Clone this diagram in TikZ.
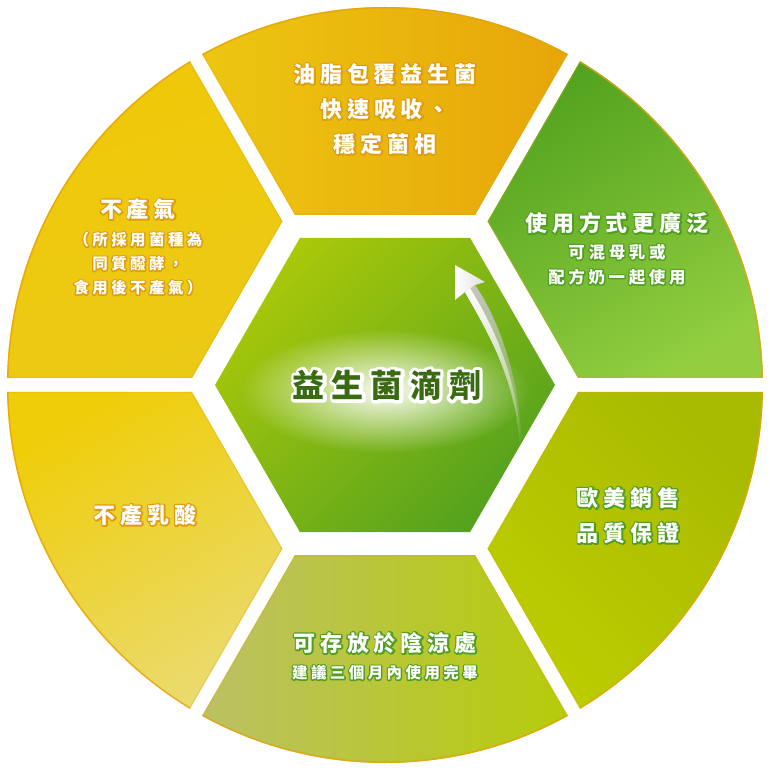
\documentclass[tikz,border=0pt]{standalone}
\usepackage{fontspec}
\usepackage{xcolor}
\usepackage{tikz}
\usetikzlibrary{positioning, calc, fadings}

\newfontfamily\cjk{Noto Sans CJK TC}[LetterSpace=22]

\definecolor{rimorange}{HTML}{E6A20C}
\definecolor{haloorange}{HTML}{DE9C0E}
\definecolor{halogreen}{HTML}{4F9E22}
\definecolor{dropgreen}{HTML}{3A6A12}

\tikzfading[name=glow, inner color=transparent!5, outer color=transparent!100]
\tikzfading[name=shaftfade, top color=transparent!0, middle color=transparent!15, bottom color=transparent!100]

% outlined text: stroked copy underneath, plain copy on top
\newcommand{\halo}[3][3]{\leavevmode\rlap{\color{#2}\special{pdf:literal direct 1 j #1 w 2 Tr}#3\special{pdf:literal direct 0 Tr}}#3}

\begin{document}
\begin{tikzpicture}[
    x=1pt, y=1pt,
    segoil/.style={left color={rgb,255:red,236;green,199;blue,17}, right color={rgb,255:red,231;green,165;blue,9}},
    seggas/.style={top color={rgb,255:red,240;green,200;blue,8}, bottom color={rgb,255:red,235;green,202;blue,22}, shading angle=20},
    segacid/.style={top color={rgb,255:red,239;green,205;blue,8}, bottom color={rgb,255:red,234;green,219;blue,112}, shading angle=30},
    segstore/.style={left color={rgb,255:red,188;green,192;blue,102}, right color={rgb,255:red,182;green,204;blue,8}},
    segsales/.style={top color={rgb,255:red,168;green,186;blue,0}, bottom color={rgb,255:red,188;green,206;blue,0}, shading angle=-45},
    segusage/.style={top color={rgb,255:red,82;green,162;blue,30}, bottom color={rgb,255:red,146;green,206;blue,64}, shading angle=30},
    hexfill/.style={top color={rgb,255:red,168;green,200;blue,10}, bottom color={rgb,255:red,85;green,162;blue,30}, shading angle=45},
    rim/.style={draw=rimorange, line width=3pt, opacity=.75},
    edge/.style={draw=rimorange, line width=2.5pt, opacity=.25},
    lbl/.style={font=\cjk\bfseries\fontsize{22}{35}\selectfont, text=white, align=center, inner sep=0pt},
    note/.style={font=\cjk\bfseries\fontsize{15.5}{24}\selectfont, text=white, align=center, inner sep=0pt},
    shaft/.style={fill=gray!45, path fading=shaftfade},
    shaftlit/.style={fill=white, path fading=shaftfade},
    head/.style={left color=white, right color=gray!25},
  ]
    \useasboundingbox (-385,-385) rectangle (385,385);

    % ring segments
    \foreach \a/\s/\xa/\ya/\xb/\yb in {60/segoil/-190/170/190/378, 120/seggas/-378/0/-98/330,
        180/segacid/-378/-330/-98/0, 240/segstore/-190/-378/190/-170,
        300/segsales/98/-330/378/0, 0/segusage/98/0/378/330} {
      \begin{scope}
        \clip (\a+30:14) -- ++(\a:520) -- ++(\a+120:520) -- cycle;
        \clip[rotate=\a+30] (170.6,-600) rectangle (800,600);
        \clip (0,0) circle (378);
        \shade[\s] (\xa,\ya) rectangle (\xb,\yb);
        \draw[rim] (0,0) circle (378);
        \draw[edge] (\a+30:14) -- ++(\a:520) (\a+30:14) -- ++(\a+60:520);
        \draw[edge, rotate=\a+30] (170.6,-300) -- (170.6,300);
      \end{scope}
    }

    % centre hexagon
    \shade[hexfill] (0:170) \foreach \k in {60,120,...,300} { -- (\k:170) } -- cycle;
    \begin{scope}
      \clip (0:170) \foreach \k in {60,120,...,300} { -- (\k:170) } -- cycle;
      \fill[white, path fading=glow] (0,-6) ellipse (145 and 62);
    \end{scope}

    % arrow
    \fill[shaft] (80,93) .. controls (97,62) and (131,10) .. (135,-62)
      -- (136.5,-62) .. controls (136,10) and (110,72) .. (90,100) -- cycle;
    \fill[shaftlit] (80,93) .. controls (97,62) and (131,10) .. (135,-62)
      -- (135.5,-62) .. controls (134,10) and (104,66) .. (85,97) -- cycle;
    \shade[head] (70,120) -- (70,85) -- (80,93) -- (90,100) -- (100,103) -- cycle;

    % labels
    \node[lbl] (oil) at (0,276) {\halo{haloorange}{油脂包覆益生菌}\\\halo{haloorange}{快速吸收、}\\\halo{haloorange}{穩定菌相}};

    \node[lbl] (gas) at (-247,176) {\halo{haloorange}{不產氣}};
    \node[note, below=12pt of gas] (gasnote) {\halo[2.6]{haloorange}{（所採用菌種為}\\\halo[2.6]{haloorange}{同質醱酵，}\\\halo[2.6]{haloorange}{食用後不產氣）}};

    \node[lbl] (usage) at (232,162) {\halo{halogreen}{使用方式更廣泛}};
    \node[note, font=\cjk\bfseries\fontsize{16.5}{25}\selectfont, below=10pt of usage] (usagenote) {\halo[2.6]{halogreen}{可混母乳或}\\\halo[2.6]{halogreen}{配方奶一起使用}};

    \node[lbl] (sales) at (243,-130.5) {\halo{halogreen}{歐美銷售}\\\halo{halogreen}{品質保證}};

    \node[lbl] (store) at (0,-258) {\halo{halogreen}{可存放於陰涼處}};
    \node[note, below=11pt of store] (storenote) {\halo[2.6]{halogreen}{建議三個月內使用完畢}};

    \node[lbl] (acid) at (-240,-130) {\halo{haloorange}{不產乳酸}};

    \node[lbl, font=\cjk\bfseries\fontsize{32}{36}\selectfont, text=dropgreen] (drops) at (2,0) {\halo[6.5]{white}{益生菌滴劑}};
\end{tikzpicture}
\end{document}
